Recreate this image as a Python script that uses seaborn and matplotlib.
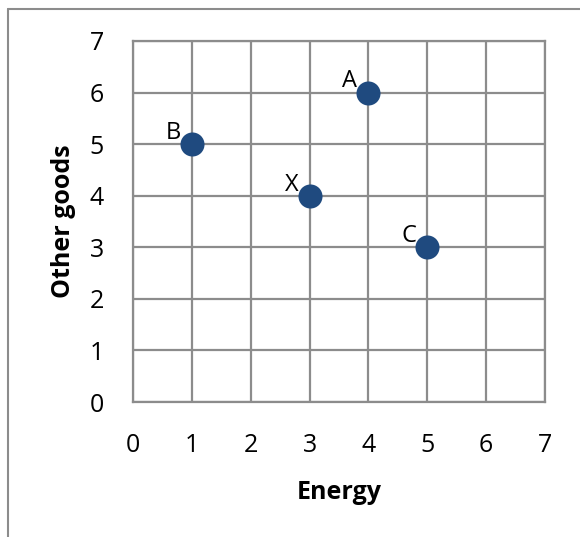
import matplotlib
matplotlib.use("Agg")
import matplotlib.pyplot as plt
import seaborn as sns
import pandas as pd
from matplotlib.lines import Line2D

# data
labels = ["A", "B", "X", "C"]
energy = [4, 1, 3, 5]
other_goods = [6, 5, 4, 3]

df = pd.DataFrame({"Energy": energy, "Other goods": other_goods, "label": labels})

sns.set_style("white")
plt.rcParams["font.family"] = ["Open Sans", "DejaVu Sans"]
plt.rcParams["text.color"] = "black"
plt.rcParams["xtick.labelcolor"] = "black"
plt.rcParams["ytick.labelcolor"] = "black"
plt.rcParams["axes.labelcolor"] = "black"

grid_c = "#8c8c8c"
fig = plt.figure(figsize=(5.8, 5.37), dpi=100)
ax = fig.add_axes([133 / 580, 1 - 402 / 537, 412 / 580, 361 / 537])

sns.scatterplot(data=df, x="Energy", y="Other goods", s=300, color="#1f4a7f",
                edgecolor="#1f4a7f", linewidth=0, ax=ax, zorder=3, clip_on=False)

for lab, x, y in zip(labels, energy, other_goods):
    ax.annotate(lab, (x, y), xytext=(-8, 8), textcoords="offset points",
                ha="right", va="center", fontsize=17, color="black")

ax.set_xlim(0, 7)
ax.set_ylim(0, 7)
ax.set_xticks(range(8))
ax.set_yticks(range(8))
ax.grid(True, color=grid_c, linewidth=1.6)
for side in ax.spines.values():
    side.set_color(grid_c)
    side.set_linewidth(1.6)
ax.tick_params(axis="both", length=7, width=1.6, color=grid_c, labelsize=18,
               direction="out")
ax.tick_params(axis="x", pad=15)
ax.tick_params(axis="y", pad=14)
ax.set_xlabel("Energy", fontsize=18, fontweight="bold", labelpad=16)
ax.set_ylabel("Other goods", fontsize=18, fontweight="bold", labelpad=10)

# chart area border (left and top edges visible)
fig.add_artist(Line2D([7.5 / 580, 7.5 / 580], [0, 1 - 9 / 537], transform=fig.transFigure,
                      color=grid_c, linewidth=1.5))
fig.add_artist(Line2D([7.5 / 580, 1], [1 - 9 / 537, 1 - 9 / 537], transform=fig.transFigure,
                      color=grid_c, linewidth=1.5))

fig.savefig("out.png", dpi=100)
